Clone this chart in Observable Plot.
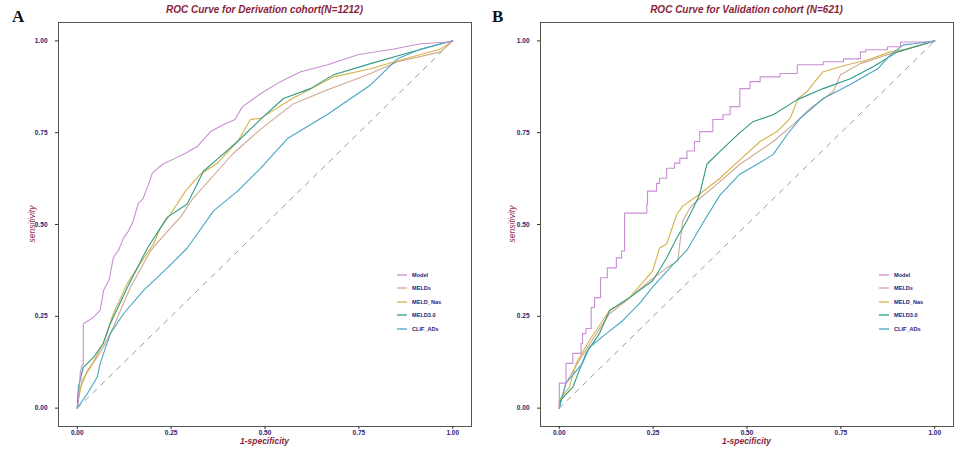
<!DOCTYPE html>
<html><head><meta charset="utf-8">
<script src="https://cdn.jsdelivr.net/npm/d3@7"></script>
<script src="https://cdn.jsdelivr.net/npm/@observablehq/plot@0.6"></script>
<style>
body{margin:0;background:#fff;}
#wrap{position:relative;width:960px;height:454px;overflow:hidden;font-family:"Liberation Sans",Arial,sans-serif;background:#fff;}
.panel{position:absolute;top:0;width:480px;height:454px;}
.title{position:absolute;top:4px;font-size:10px;font-weight:bold;font-style:italic;color:#8a1f3d;white-space:nowrap;transform:translateX(-50%);}
.letter{position:absolute;top:7px;font-family:"Liberation Serif",serif;font-weight:bold;font-size:17px;color:#111;}
.xlab{position:absolute;top:436px;font-size:8.5px;line-height:10px;font-weight:bold;font-style:italic;color:#8a1f3d;transform:translateX(-50%);white-space:nowrap;}
.ylab{position:absolute;font-size:8.5px;font-style:italic;color:#8a1f3d;transform:translate(-50%,-50%) rotate(-90deg);white-space:nowrap;}
.legend{position:absolute;font-size:5.6px;font-weight:bold;color:#23237a;}
.legend .row{height:13.5px;display:flex;align-items:center;}
.legend svg{margin-right:5px;}
</style></head>
<body><div id="wrap"></div>
<script>
// ---- data ----
const seriesNames = ["Model", "MELDs", "MELD_Nas", "MELD3.0", "CLIF_ADs"];
const seriesColors = ["#c98fd3", "#cfa992", "#d6b24a", "#2f9c85", "#47a6c4"];
const axisTicks = [0, 0.25, 0.5, 0.75, 1];
const panelTitles = ["ROC Curve for Derivation cohort(N=1212)", "ROC Curve for  Validation cohort (N=621)"];
const panelLetters = ["A", "B"];
const xLabel = "1-specificity";
const yLabel = "sensitivity";
const diagonal = [[0, 0], [1, 1]];

// Derivation cohort (panel A): [1-specificity, sensitivity]
const derivModel = [[0,0],[0.003,0.02],[0.008,0.095],[0.013,0.117],[0.016,0.12],[0.016,0.23],[0.043,0.247],[0.061,0.266],[0.07,0.32],[0.085,0.35],[0.096,0.41],[0.11,0.43],[0.123,0.463],[0.135,0.48],[0.147,0.504],[0.163,0.558],[0.175,0.57],[0.19,0.61],[0.2,0.64],[0.227,0.664],[0.256,0.678],[0.288,0.694],[0.32,0.713],[0.355,0.753],[0.39,0.772],[0.42,0.786],[0.44,0.821],[0.488,0.856],[0.541,0.889],[0.595,0.916],[0.667,0.935],[0.747,0.962],[0.843,0.978],[0.915,0.992],[0.99,0.997],[1,1]];
const derivMELDs = [[0,0],[0.003,0.04],[0.027,0.103],[0.053,0.138],[0.069,0.165],[0.096,0.22],[0.141,0.328],[0.195,0.428],[0.213,0.45],[0.248,0.49],[0.275,0.52],[0.309,0.572],[0.373,0.645],[0.416,0.694],[0.488,0.759],[0.576,0.829],[0.667,0.867],[0.773,0.908],[0.853,0.943],[0.968,0.97],[1,1]];
const derivMELDNas = [[0,0],[0.003,0.022],[0.013,0.076],[0.035,0.111],[0.069,0.176],[0.096,0.257],[0.133,0.339],[0.16,0.382],[0.203,0.447],[0.221,0.49],[0.248,0.528],[0.288,0.591],[0.328,0.637],[0.373,0.667],[0.427,0.726],[0.461,0.786],[0.488,0.789],[0.573,0.843],[0.683,0.902],[0.781,0.924],[0.861,0.948],[0.968,0.978],[1,1]];
const derivMELD30 = [[0,0],[0.003,0.057],[0.016,0.111],[0.043,0.138],[0.069,0.176],[0.088,0.23],[0.133,0.328],[0.187,0.436],[0.24,0.52],[0.293,0.556],[0.336,0.645],[0.373,0.678],[0.427,0.726],[0.488,0.786],[0.549,0.843],[0.621,0.87],[0.683,0.908],[0.781,0.938],[0.88,0.967],[0.987,0.997],[1,1]];
const derivCLIF = [[0,0],[0.027,0.04],[0.053,0.084],[0.061,0.122],[0.088,0.203],[0.123,0.257],[0.176,0.32],[0.24,0.382],[0.293,0.436],[0.363,0.537],[0.427,0.591],[0.488,0.653],[0.56,0.734],[0.667,0.8],[0.781,0.88],[0.853,0.951],[0.915,0.978],[0.987,0.997],[1,1]];

// Validation cohort (panel B)
const validModel = [[0,0],[0,0.013],[0.018,0.068],[0.036,0.122],[0.058,0.149],[0.062,0.176],[0.071,0.203],[0.085,0.217],[0.094,0.274],[0.11,0.301],[0.128,0.355],[0.152,0.382],[0.166,0.409],[0.174,0.428],[0.174,0.477],[0.2,0.531],[0.233,0.531],[0.235,0.556],[0.259,0.591],[0.267,0.612],[0.286,0.626],[0.307,0.653],[0.321,0.667],[0.34,0.68],[0.36,0.70],[0.374,0.726],[0.409,0.753],[0.436,0.786],[0.455,0.799],[0.481,0.821],[0.508,0.87],[0.535,0.889],[0.588,0.902],[0.634,0.911],[0.703,0.935],[0.757,0.943],[0.802,0.951],[0.816,0.97],[0.874,0.976],[0.909,0.984],[0.997,0.997],[1,1]];
const validMELDs = [[0,0],[0.004,0.022],[0.018,0.068],[0.053,0.13],[0.099,0.203],[0.134,0.257],[0.179,0.293],[0.241,0.347],[0.286,0.382],[0.316,0.401],[0.321,0.447],[0.329,0.51],[0.348,0.545],[0.366,0.564],[0.42,0.61],[0.481,0.664],[0.57,0.726],[0.623,0.772],[0.668,0.816],[0.73,0.862],[0.749,0.908],[0.802,0.938],[0.874,0.962],[1,1]];
const validMELDNas = [[0,0],[0,0.022],[0.027,0.057],[0.045,0.122],[0.08,0.184],[0.134,0.266],[0.187,0.301],[0.249,0.374],[0.267,0.436],[0.286,0.447],[0.313,0.528],[0.329,0.55],[0.374,0.583],[0.428,0.626],[0.481,0.676],[0.535,0.726],[0.58,0.753],[0.615,0.789],[0.636,0.843],[0.66,0.862],[0.687,0.897],[0.703,0.916],[0.767,0.935],[0.821,0.948],[0.882,0.97],[0.928,0.978],[1,1]];
const validMELD30 = [[0,0],[0.004,0.022],[0.036,0.057],[0.071,0.149],[0.107,0.203],[0.134,0.266],[0.187,0.301],[0.249,0.347],[0.286,0.409],[0.313,0.463],[0.34,0.51],[0.366,0.564],[0.374,0.583],[0.393,0.664],[0.428,0.699],[0.481,0.75],[0.516,0.78],[0.57,0.799],[0.634,0.84],[0.703,0.87],[0.775,0.897],[0.837,0.93],[0.901,0.97],[0.963,0.989],[1,1]];
const validCLIF = [[0,0],[0.008,0.03],[0.018,0.068],[0.062,0.122],[0.08,0.165],[0.125,0.203],[0.169,0.238],[0.214,0.285],[0.249,0.33],[0.302,0.39],[0.34,0.43],[0.38,0.5],[0.428,0.58],[0.481,0.637],[0.527,0.664],[0.57,0.691],[0.607,0.745],[0.642,0.789],[0.703,0.843],[0.775,0.881],[0.848,0.924],[0.882,0.962],[0.917,0.989],[0.944,0.992],[1,1]];

const panels = [
  {series: [derivModel, derivMELDs, derivMELDNas, derivMELD30, derivCLIF], modelCurve: "linear"},
  {series: [validModel, validMELDs, validMELDNas, validMELD30, validCLIF], modelCurve: "step-before"}
];

// ---- layout ----
const wrap = document.getElementById("wrap");
const layout = [
  {left: 0, ml: 58, mr: 9, legendLeft: 397},
  {left: 480, ml: 60, mr: 7, legendLeft: 879}
];
const SVGNS = "http://www.w3.org/2000/svg";

panels.forEach((p, i) => {
  const L = layout[i];
  const rows = [];
  p.series.forEach((s, k) => s.forEach(([fpr, tpr]) => rows.push({name: seriesNames[k], fpr, tpr})));
  const diagRows = diagonal.map(([a, b]) => ({fpr: a, tpr: b}));
  const chart = Plot.plot({
    width: 480, height: 454,
    marginLeft: L.ml, marginRight: L.mr, marginTop: 22, marginBottom: 28,
    style: {fontFamily: "Liberation Sans, Arial, sans-serif", fontSize: "6.5px", fontWeight: "bold", color: "#23237a", background: "transparent"},
    x: {domain: [-0.05, 1.05]},
    y: {domain: [-0.05, 1.05]},
    color: {domain: seriesNames, range: seriesColors},
    marks: [
      Plot.line(diagRows, {x: "fpr", y: "tpr", stroke: "#9a9a9a", strokeWidth: 1, strokeDasharray: "5,6"}),
      Plot.line(rows.filter(d => d.name !== "Model"), {x: "fpr", y: "tpr", z: "name", stroke: "name", strokeWidth: 1.1}),
      Plot.line(rows.filter(d => d.name === "Model"), {x: "fpr", y: "tpr", stroke: "name", strokeWidth: 1.1, curve: p.modelCurve}),
      Plot.frame({stroke: "#555", strokeWidth: 1}),
      Plot.axisX({ticks: axisTicks, tickFormat: d => d.toFixed(2), tickSize: 3, tickPadding: 1, label: null, stroke: "#333"}),
      Plot.axisY({ticks: axisTicks, tickFormat: d => d.toFixed(2), tickSize: 3, tickPadding: 8, label: null, stroke: "#333"})
    ]
  });
  const div = document.createElement("div");
  div.className = "panel";
  div.style.left = L.left + "px";
  div.appendChild(chart);
  wrap.appendChild(div);

  const frameCenter = L.left + L.ml + (480 - L.ml - L.mr) / 2;
  const t = document.createElement("div");
  t.className = "title"; t.textContent = panelTitles[i]; t.style.left = frameCenter + "px";
  wrap.appendChild(t);
  const le = document.createElement("div");
  le.className = "letter"; le.textContent = panelLetters[i]; le.style.left = (L.left + 12) + "px";
  wrap.appendChild(le);
  const xl = document.createElement("div");
  xl.className = "xlab"; xl.textContent = xLabel; xl.style.left = frameCenter + "px";
  wrap.appendChild(xl);
  const yl = document.createElement("div");
  yl.className = "ylab"; yl.textContent = yLabel; yl.style.left = (L.left + 32) + "px"; yl.style.top = "224px";
  wrap.appendChild(yl);
  const lg = document.createElement("div");
  lg.className = "legend"; lg.style.left = L.legendLeft + "px"; lg.style.top = "268px";
  seriesNames.forEach((n, k) => {
    const r = document.createElement("div"); r.className = "row";
    const sw = document.createElementNS(SVGNS, "svg");
    sw.setAttribute("width", "10"); sw.setAttribute("height", "4");
    const ln = document.createElementNS(SVGNS, "line");
    ln.setAttribute("x1", "0"); ln.setAttribute("x2", "10"); ln.setAttribute("y1", "2"); ln.setAttribute("y2", "2");
    ln.setAttribute("stroke", seriesColors[k]); ln.setAttribute("stroke-width", "1.3");
    sw.appendChild(ln);
    r.appendChild(sw); r.appendChild(document.createTextNode(n));
    lg.appendChild(r);
  });
  wrap.appendChild(lg);
});
</script>
</body></html>
